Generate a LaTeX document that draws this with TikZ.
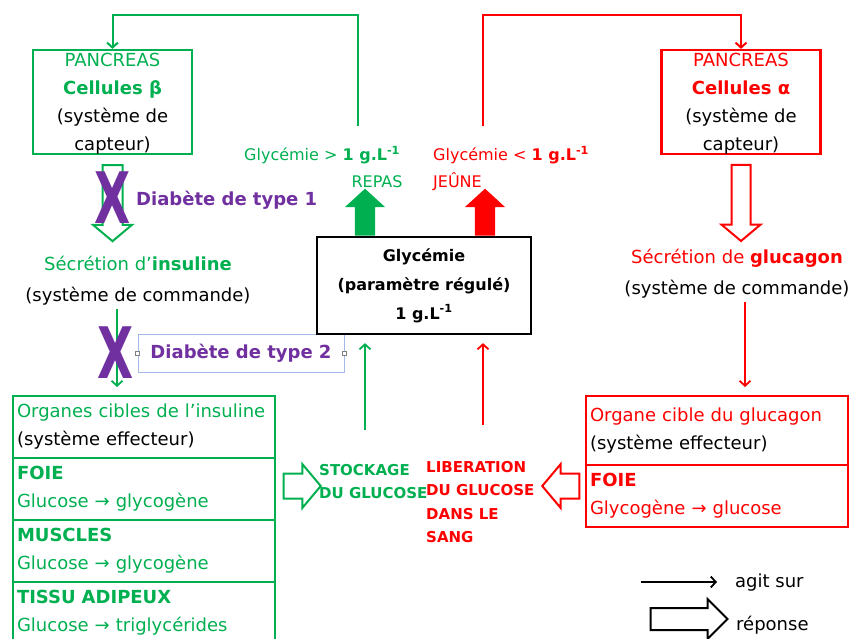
\documentclass[tikz,border=0pt]{standalone}
\usepackage{fontspec}
\setmainfont{DejaVu Sans}
\usepackage{xcolor}
\usepackage{graphicx}
\usepackage{tikz}
\usetikzlibrary{arrows.meta,shapes.arrows,positioning}
\definecolor{insgreen}{RGB}{0,176,80}
\definecolor{glured}{RGB}{255,0,0}
\definecolor{diabpurple}{RGB}{112,48,160}
\definecolor{selblue}{RGB}{165,185,235}
\newcommand{\basefont}{\fontsize{18}{28}\selectfont}

\tikzset{
  capteur/.style={draw, line width=2.2pt, minimum width=159pt, minimum height=104pt},
  effrow/.style={draw, line width=2.2pt, outer sep=0pt, minimum height=62pt, text width=254pt,
    inner xsep=4pt, inner ysep=0pt, align=left, anchor=north west},
  blocvide/.style={single arrow, draw, line width=2pt, inner sep=9pt,
    single arrow head extend=9.5pt, single arrow tip angle=100, minimum height=76pt},
  blocplein/.style={single arrow, inner sep=10pt, single arrow head extend=10pt,
    single arrow tip angle=95, minimum height=47pt},
  agit/.style={-{Straight Barb[length=5pt,width=11pt]}, line width=1.8pt},
  croix/.style={text=diabpurple, font=\fontsize{71}{71}\selectfont\bfseries},
  diabete/.style={text=diabpurple, font=\fontsize{18}{20}\selectfont\bfseries},
}

\begin{document}
\begin{tikzpicture}[x=1pt, y=-1pt, font=\basefont, every node/.style={inner sep=0pt}]
\useasboundingbox (0,0) rectangle (857,638);
\clip (0,0) rectangle (857,638);

% cote insuline
\node[capteur, draw=insgreen] (betabox) at (112.5,102) {};
\node[align=center] (betatxt) at (112.5,104) {\textcolor{insgreen}{PANCREAS}\\\textcolor{insgreen}{\textbf{Cellules β}}\\(système de\\capteur)};

\node[blocvide, draw=insgreen, shape border rotate=270] (betaout) at (112.5,199) {};
\node[croix] (x1) at (113,198) {\scalebox{0.66}[1]{X}};
\node[diabete, anchor=west] (diab1) at (136,200) {Diabète de type 1};

\node[align=center, font=\fontsize{18}{31}\selectfont] (inscmd) at (138,280.5) {\textcolor{insgreen}{Sécrétion d’\textbf{insuline}}\\(système de commande)};

\node[effrow, draw=insgreen] (inshead) at (13,396) {\textcolor{insgreen}{Organes cibles de l’insuline}\\(système effecteur)};
\node[effrow, draw=insgreen, text=insgreen] (insfoie) at (inshead.south west) {\textbf{FOIE}\\Glucose → glycogène};
\node[effrow, draw=insgreen, text=insgreen] (insmuscle) at (insfoie.south west) {\textbf{MUSCLES}\\Glucose → glycogène};
\node[effrow, draw=insgreen, text=insgreen] (insadipeux) at (insmuscle.south west) {\textbf{TISSU ADIPEUX}\\Glucose → triglycérides};

\draw[agit, insgreen, shorten <=4pt, shorten >=9pt] (inscmd.south -| 117,0) -- (inshead.north -| 117,0);
\node[croix] (x2) at (116,353) {\scalebox{0.66}[1]{X}};
\node[diabete, draw=selblue, line width=0.6pt, minimum width=206pt, minimum height=38pt] (diab2) at (241,353) {Diabète de type 2};
\foreach \a in {west,east}
  \draw[gray, fill=white, line width=0.5pt] ([shift={(-2,-2)}]diab2.\a) rectangle ++(4,4);

\node[blocvide, draw=insgreen, minimum height=37pt, inner sep=11.5pt] (stockarrow) at (297,486) {};
\node[anchor=west, align=left, text=insgreen, font=\fontsize{15}{23}\selectfont\bfseries] (stock) at (319,481.5) {STOCKAGE\\DU GLUCOSE};

% parametre regule
\node[draw, line width=2.2pt, minimum width=214pt, minimum height=97pt, align=center,
  font=\fontsize{16}{29}\selectfont\bfseries] (glybox) at (424,285.5) {Glycémie\\(paramètre régulé)\\1 g.L\textsuperscript{-1}};

\coordinate (stockup) at (365,430);
\draw[agit, insgreen, shorten >=8pt] (stockup) -- (glybox.south -| stockup);
\coordinate (libup) at (483,425);
\draw[agit, glured, shorten >=8pt] (libup) -- (glybox.south -| libup);

\node[blocplein, fill=insgreen, shape border rotate=90, anchor=tail] (upgreen) at (glybox.north -| 365,0) {};
\node[blocplein, fill=glured, shape border rotate=90, anchor=tail] (upred) at (glybox.north -| 485,0) {};

\node[anchor=west, text=insgreen, font=\fontsize{16}{20}\selectfont] (ghigh) at (244,155) {Glycémie > \textbf{1 g.L\textsuperscript{-1}}};
\node[text=insgreen, font=\fontsize{16}{20}\selectfont] (repas) at (377,182) {REPAS};
\node[anchor=west, align=left, text=glured, font=\fontsize{16}{27}\selectfont] (glow) at (433,168.5) {Glycémie < \textbf{1 g.L\textsuperscript{-1}}\\JEÛNE};

% cote glucagon
\node[capteur, draw=glured] (alphabox) at (741,102) {};
\node[align=center] (alphatxt) at (741,104) {\textcolor{glured}{PANCREAS}\\\textcolor{glured}{\textbf{Cellules α}}\\(système de\\capteur)};

\node[blocvide, draw=glured, shape border rotate=270, inner sep=8.5pt, single arrow head extend=10pt] (alphaout) at (741,199) {};

\node[align=center, font=\fontsize{18}{31}\selectfont] (glucmd) at (737,273.5) {\textcolor{glured}{Sécrétion de \textbf{glucagon}}\\(système de commande)};

\node[effrow, draw=glured, minimum height=69pt] (gluhead) at (586,396) {\textcolor{glured}{Organe cible du glucagon}\\(système effecteur)};
\node[effrow, draw=glured, text=glured] (glufoie) at (gluhead.south west) {\textbf{FOIE}\\Glycogène → glucose};

\draw[agit, glured, shorten <=4pt, shorten >=9pt] (glucmd.south -| 745,0) -- (gluhead.north -| 745,0);

\node[blocvide, draw=glured, shape border rotate=180, minimum height=37pt, inner sep=11.5pt] (libarrow) at (566,486) {};
\node[anchor=west, align=left, text=glured, font=\fontsize{15}{23.3}\selectfont\bfseries] (libere) at (426,502) {LIBERATION\\DU GLUCOSE\\DANS LE\\SANG};

% retroactions
\coordinate (ghtop) at (358,126);
\draw[agit, insgreen, line width=2pt] (ghtop) -- (ghtop |- 0,15) -| (betabox.north);
\coordinate (gltop) at (483,126);
\draw[agit, glured, line width=2pt] (gltop) -- (gltop |- 0,15) -| (alphabox.north);

% legende
\coordinate (legA) at (641,582);
\coordinate (legB) at (717,582);
\draw[agit, black] (legA) -- (legB);
\node[anchor=west] (agitsur) at (735,583) {agit sur};
\node[blocvide, draw=black, minimum height=77pt, inner sep=10pt, single arrow head extend=9pt, single arrow tip angle=90] (legarrow) at (683.5,619) {};
\node[anchor=west] (reponse) at (736,625) {réponse};
\end{tikzpicture}
\end{document}
